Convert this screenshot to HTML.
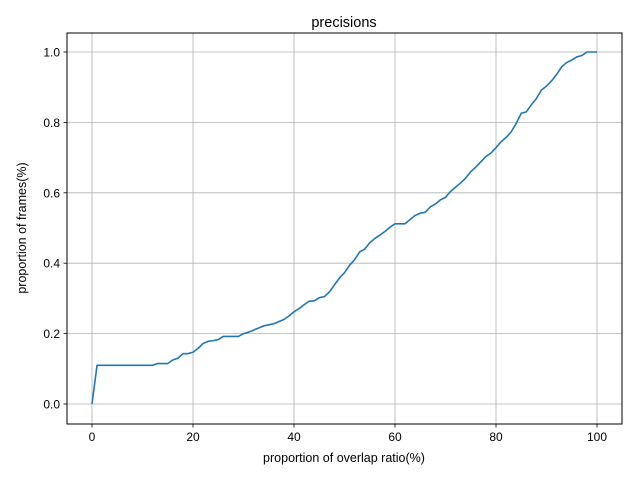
<!DOCTYPE html>
<html><head><meta charset="utf-8"><style>
body{margin:0;background:#fff;}
svg{display:block;font-family:"Liberation Sans","DejaVu Sans",sans-serif;}
</style></head><body>
<svg id="chart" width="640" height="480">
<rect width="640" height="480" fill="#fff"/>
<g id="grid"></g>
<g id="ticks"></g>
<g id="series"></g>
<rect x="67" y="33" width="555" height="391" fill="none" stroke="#000" stroke-width="1"/>
<text x="344" y="27" font-size="14.5" text-anchor="middle">precisions</text>
<text x="344" y="462" font-size="12.5" text-anchor="middle">proportion of overlap ratio(%)</text>
<text transform="translate(26,228) rotate(-90)" font-size="12.5" text-anchor="middle">proportion of frames(%)</text>
</svg>
<script>
const xs = [];
for (let i = 0; i <= 100; i++) xs.push(i);
const precision = [0,0.11,0.11,0.11,0.11,0.11,0.11,0.11,0.11,0.11,0.11,0.11,0.11,0.115,0.115,0.115,0.125,0.13,0.143,0.143,0.147,0.158,0.172,0.178,0.18,0.183,0.192,0.192,0.192,0.192,0.2,0.204,0.21,0.216,0.222,0.225,0.228,0.234,0.24,0.25,0.262,0.271,0.282,0.292,0.293,0.302,0.305,0.318,0.338,0.358,0.373,0.394,0.41,0.432,0.44,0.458,0.47,0.48,0.49,0.502,0.512,0.512,0.512,0.524,0.536,0.542,0.545,0.56,0.568,0.58,0.587,0.604,0.616,0.628,0.642,0.66,0.673,0.688,0.703,0.713,0.728,0.745,0.757,0.773,0.797,0.826,0.83,0.85,0.868,0.892,0.903,0.918,0.936,0.958,0.97,0.977,0.986,0.99,1,1,1];
const xTicks = [0,20,40,60,80,100];
const yTicks = [0.0,0.2,0.4,0.6,0.8,1.0];
const yTickLabels = ["0.0","0.2","0.4","0.6","0.8","1.0"];

const X = v => 92 + v * 5.05;
const Y = v => 404 - v * 352;
const NS = "http://www.w3.org/2000/svg";
const grid = document.getElementById('grid');
const ticks = document.getElementById('ticks');
function mk(tag, attrs, parent){const e=document.createElementNS(NS,tag);for(const k in attrs)e.setAttribute(k,attrs[k]);parent.appendChild(e);return e;}

xTicks.forEach(t => {
  const g = mk('line',{x1:X(t),x2:X(t),y1:33,y2:424,stroke:'#b0b0b0','stroke-width':0.8},grid);
  
  
  mk('line',{x1:X(t),x2:X(t),y1:424,y2:427.5,stroke:'#000','stroke-width':0.8},ticks);
  const tx = mk('text',{x:X(t),y:441,'font-size':12,'text-anchor':'middle'},ticks);
  tx.textContent = t;
  
  
});
yTicks.forEach((t,i) => {
  const g = mk('line',{x1:67,x2:622,y1:Y(t),y2:Y(t),stroke:'#b0b0b0','stroke-width':0.8},grid);
  
  
  mk('line',{x1:63.5,x2:67,y1:Y(t),y2:Y(t),stroke:'#000','stroke-width':0.8},ticks);
  const tx = mk('text',{x:60,y:Y(t)+4.5,'font-size':12,'text-anchor':'end'},ticks);
  tx.textContent = yTickLabels[i];
  
  
});
const pts = xs.map((x,i) => X(x).toFixed(2)+','+Y(precision[i]).toFixed(2)).join(' ');
const line = mk('polyline',{points:pts,fill:'none',stroke:'#1f77b4','stroke-width':1.6,'stroke-linejoin':'round'},document.getElementById('series'));


</script>
</body></html>
